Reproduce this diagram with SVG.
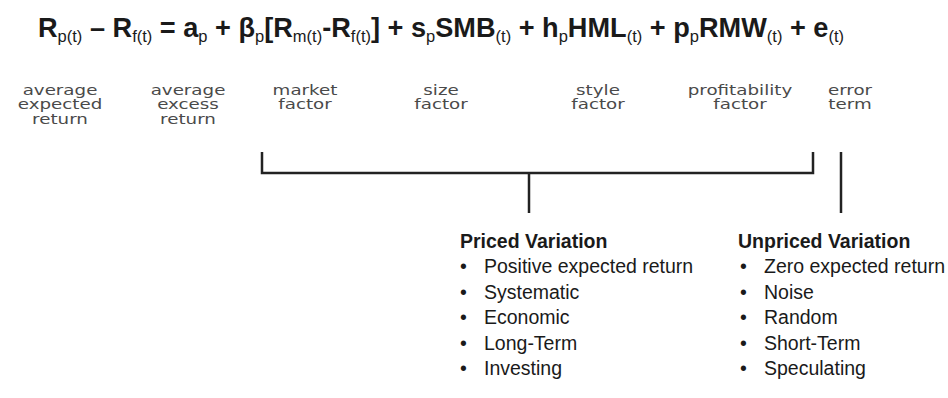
<svg xmlns="http://www.w3.org/2000/svg" width="948" height="398" viewBox="0 0 948 398">
  <style>
    .eq{font-family:"Liberation Sans",Arial,sans-serif;font-weight:bold;font-size:28px;fill:#1a1a1a}
    .sub{font-weight:normal;font-size:17px}
    .lbl{font-family:"DejaVu Sans",sans-serif;font-size:14.5px;fill:#4a4a4a;text-anchor:middle}
    .head{font-family:"Liberation Sans",Arial,sans-serif;font-weight:bold;font-size:19.5px;fill:#1a1a1a}
    .item{font-family:"Liberation Sans",Arial,sans-serif;font-size:19.5px;fill:#1a1a1a}
    .wire{stroke:#222;stroke-width:2.5;fill:none}
  </style>
  <rect width="948" height="398" fill="#fff"/>

  <!-- Five-factor regression -->
  <g id="formula" transform="translate(38 37) scale(0.97 1)">
    <text class="eq" x="0" y="0">R<tspan class="sub" dy="5">p(t)</tspan><tspan dy="-5"> – R</tspan><tspan class="sub" dy="5">f(t)</tspan><tspan dy="-5"> = a</tspan><tspan class="sub" dy="5">p</tspan><tspan dy="-5"> + β</tspan><tspan class="sub" dy="5">p</tspan><tspan dy="-5">[R</tspan><tspan class="sub" dy="5">m(t)</tspan><tspan dy="-5">-R</tspan><tspan class="sub" dy="5">f(t)</tspan><tspan dy="-5">] + s</tspan><tspan class="sub" dy="5">p</tspan><tspan dy="-5">SMB</tspan><tspan class="sub" dy="5">(t)</tspan><tspan dy="-5"> + h</tspan><tspan class="sub" dy="5">p</tspan><tspan dy="-5">HML</tspan><tspan class="sub" dy="5">(t)</tspan><tspan dy="-5"> + p</tspan><tspan class="sub" dy="5">p</tspan><tspan dy="-5">RMW</tspan><tspan class="sub" dy="5">(t)</tspan><tspan dy="-5"> + e</tspan><tspan class="sub" dy="5">(t)</tspan></text>
  </g>

  <!-- Term captions (wide geometric face, stretched horizontally) -->
  <g id="term-expected" class="lbl" transform="translate(60 0) scale(1.26 1)"><text x="0" y="95">average</text><text x="0" y="109.5">expected</text><text x="0" y="124">return</text></g>
  <g id="term-excess" class="lbl" transform="translate(188 0) scale(1.26 1)"><text x="0" y="95">average</text><text x="0" y="109.5">excess</text><text x="0" y="124">return</text></g>
  <g id="term-market" class="lbl" transform="translate(305 0) scale(1.26 1)"><text x="0" y="95">market</text><text x="0" y="109.5">factor</text></g>
  <g id="term-size" class="lbl" transform="translate(441 0) scale(1.26 1)"><text x="0" y="95">size</text><text x="0" y="109.5">factor</text></g>
  <g id="term-style" class="lbl" transform="translate(598 0) scale(1.26 1)"><text x="0" y="95">style</text><text x="0" y="109.5">factor</text></g>
  <g id="term-profit" class="lbl" transform="translate(740 0) scale(1.26 1)"><text x="0" y="95">profitability</text><text x="0" y="109.5">factor</text></g>
  <g id="term-error" class="lbl" transform="translate(850 0) scale(1.26 1)"><text x="0" y="95">error</text><text x="0" y="109.5">term</text></g>

  <!-- Brackets -->
  <g id="connectors" class="wire">
    <path d="M262 152 V173 H813 V152"/>
    <path d="M529 173 V213"/>
    <path d="M841 152 V213"/>
  </g>

  <!-- Priced variation list -->
  <g id="priced">
    <text class="head" x="460" y="248">Priced Variation</text>
    <g class="item">
      <text x="460" y="273">•</text><text x="484" y="273">Positive expected return</text>
      <text x="460" y="299">•</text><text x="484" y="299">Systematic</text>
      <text x="460" y="324">•</text><text x="484" y="324">Economic</text>
      <text x="460" y="350">•</text><text x="484" y="350">Long-Term</text>
      <text x="460" y="375">•</text><text x="484" y="375">Investing</text>
    </g>
  </g>

  <!-- Unpriced variation list -->
  <g id="unpriced">
    <text class="head" x="738" y="248">Unpriced Variation</text>
    <g class="item">
      <text x="740" y="273">•</text><text x="764" y="273">Zero expected return</text>
      <text x="740" y="299">•</text><text x="764" y="299">Noise</text>
      <text x="740" y="324">•</text><text x="764" y="324">Random</text>
      <text x="740" y="350">•</text><text x="764" y="350">Short-Term</text>
      <text x="740" y="375">•</text><text x="764" y="375">Speculating</text>
    </g>
  </g>
</svg>
